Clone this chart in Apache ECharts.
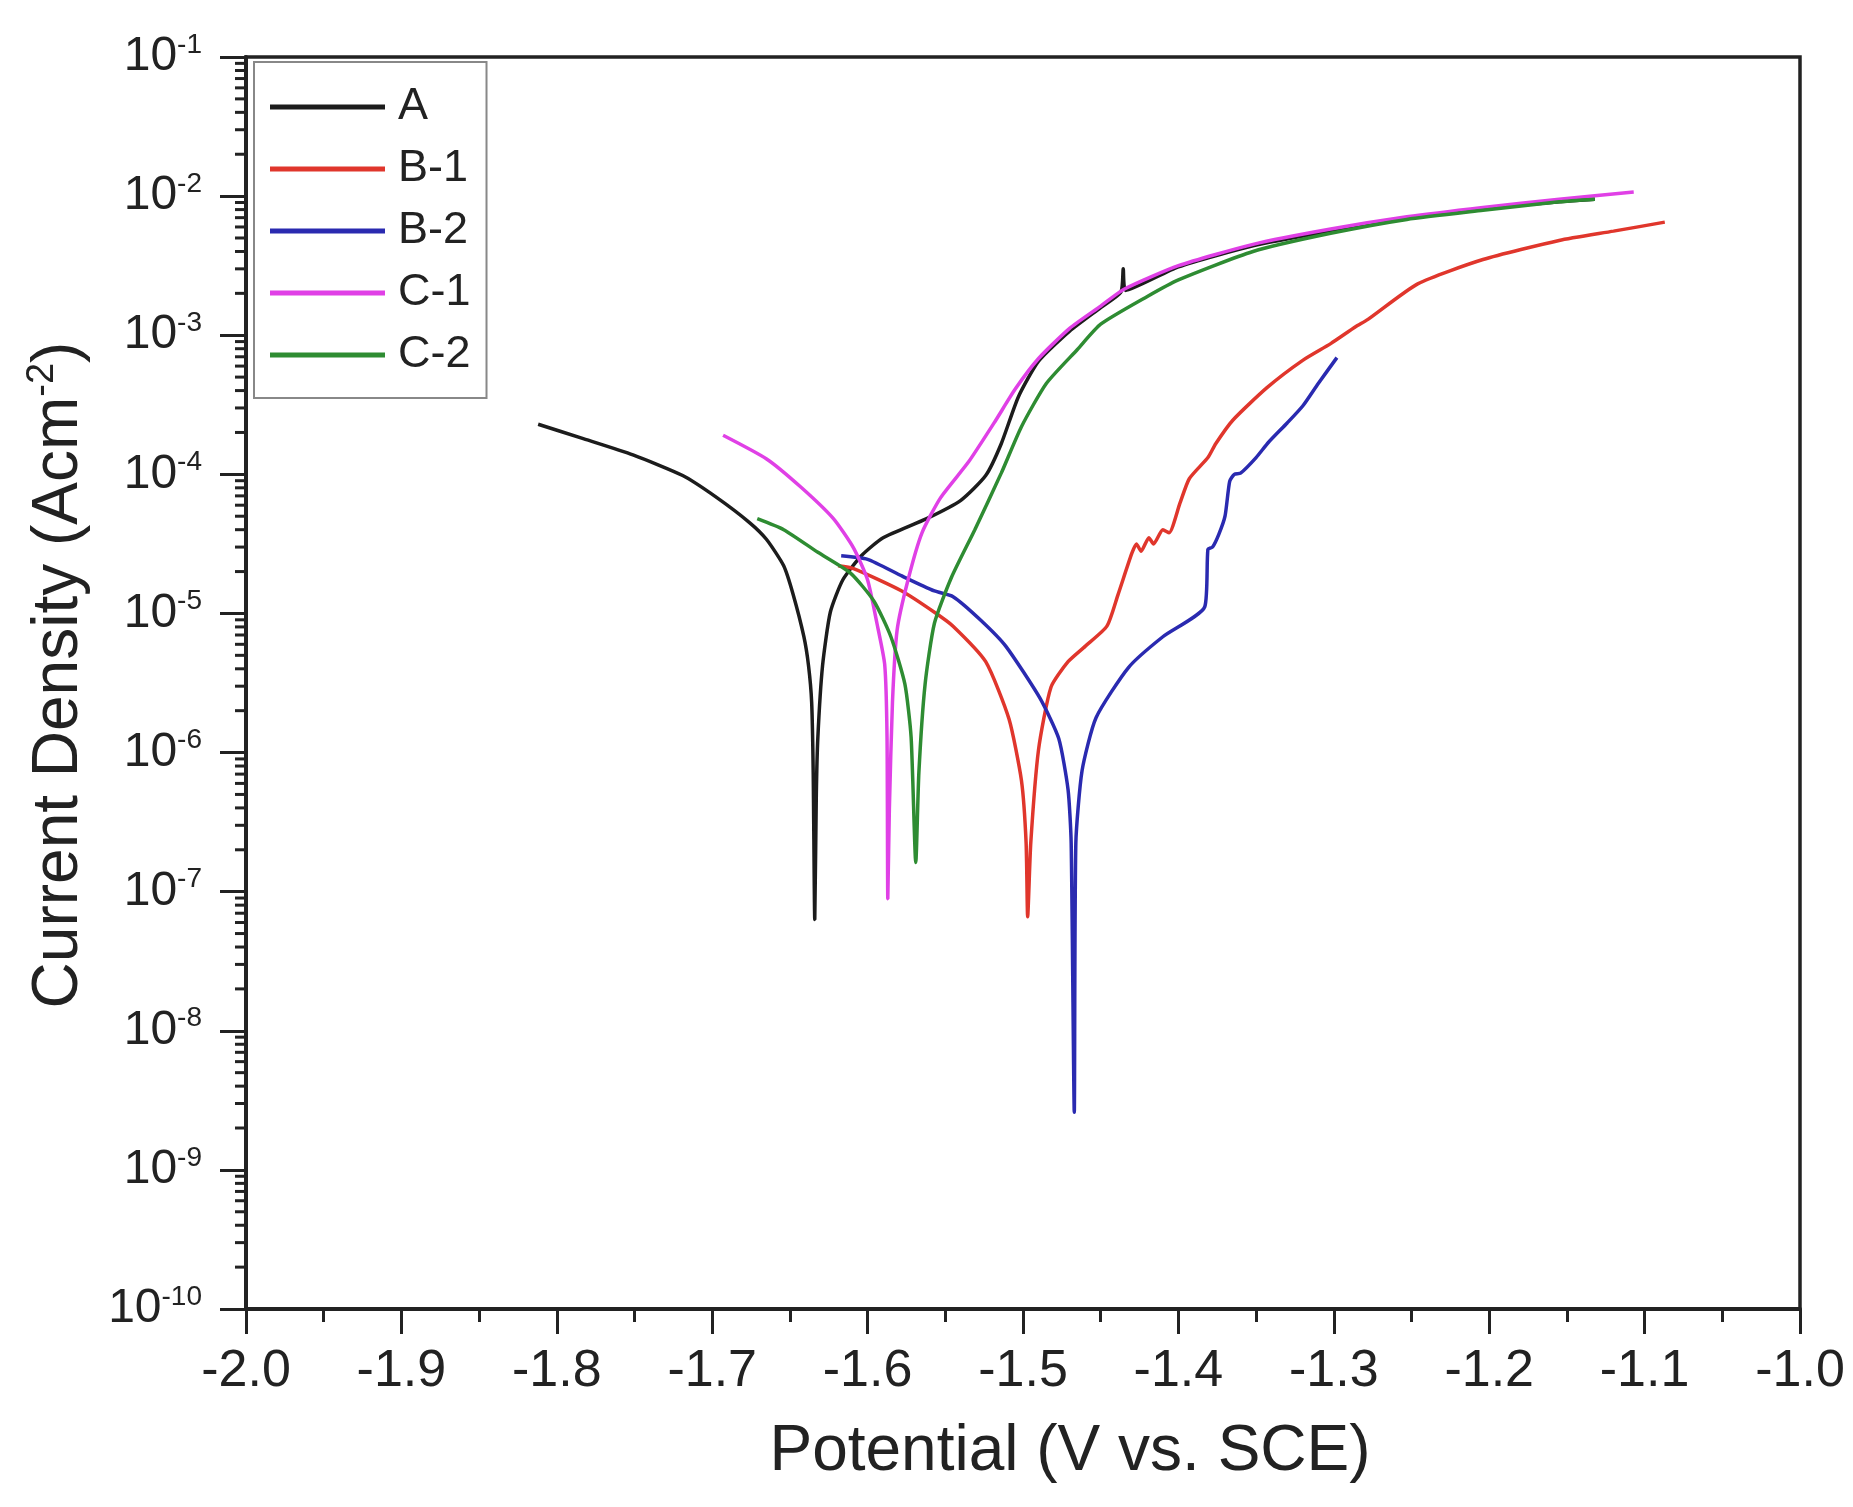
<!DOCTYPE html>
<html>
<head>
<meta charset="utf-8">
<title>Polarization curves</title>
<script src="https://cdn.jsdelivr.net/npm/echarts@6/dist/echarts.min.js"></script>
<style>
    html, body {margin: 0; padding: 0; background: #fff;}
    #main {width: 1853px; height: 1507px;}
</style>
</head>
<body>
<div id="main"></div>
<script>
// potential (V vs. SCE), current density (A/cm2)
var curveA = [
    [-1.812, 2.29e-4], [-1.784, 1.82e-4], [-1.751, 1.38e-4], [-1.719, 9.8e-5], [-1.697, 6.8e-5],
    [-1.676, 4.5e-5], [-1.665, 3.4e-5], [-1.654, 2.2e-5], [-1.648, 1.38e-5], [-1.641, 6.8e-6],
    [-1.638, 4.2e-6], [-1.636, 2.3e-6], [-1.635, 7.2e-7], [-1.634, 6.3e-8], [-1.633, 5.0e-7],
    [-1.632, 1.29e-6], [-1.629, 4.2e-6], [-1.624, 1.02e-5], [-1.616, 1.74e-5], [-1.604, 2.6e-5],
    [-1.590, 3.5e-5], [-1.562, 4.8e-5], [-1.540, 6.5e-5], [-1.524, 9.8e-5], [-1.514, 1.66e-4],
    [-1.503, 3.6e-4], [-1.490, 6.5e-4], [-1.470, 1.07e-3], [-1.450, 1.58e-3], [-1.437, 2.04e-3],
    [-1.4355, 3.0e-3], [-1.434, 2.1e-3], [-1.400, 3.1e-3], [-1.352, 4.4e-3], [-1.302, 5.6e-3],
    [-1.253, 6.9e-3], [-1.204, 8.1e-3], [-1.155, 9.1e-3], [-1.132, 9.5e-3]
];
var curveB1 = [
    [-1.619, 2.2e-5], [-1.609, 2.1e-5], [-1.578, 1.45e-5], [-1.557, 1.02e-5], [-1.545, 8.1e-6],
    [-1.524, 4.5e-6], [-1.509, 1.74e-6], [-1.501, 6.3e-7], [-1.498, 2.24e-7], [-1.497, 6.6e-8],
    [-1.495, 2.24e-7], [-1.490, 1.05e-6], [-1.482, 2.95e-6], [-1.471, 4.5e-6], [-1.460, 5.8e-6],
    [-1.446, 8.1e-6], [-1.439, 1.35e-5], [-1.430, 2.7e-5], [-1.427, 3.16e-5], [-1.424, 2.8e-5],
    [-1.419, 3.5e-5], [-1.416, 3.16e-5], [-1.410, 4.0e-5], [-1.406, 3.8e-5], [-1.399, 6.2e-5],
    [-1.393, 9.3e-5], [-1.381, 1.32e-4], [-1.376, 1.66e-4], [-1.365, 2.45e-4], [-1.343, 4.2e-4],
    [-1.320, 6.6e-4], [-1.302, 8.7e-4], [-1.286, 1.15e-3], [-1.278, 1.3e-3], [-1.246, 2.34e-3],
    [-1.204, 3.5e-3], [-1.155, 4.8e-3], [-1.120, 5.6e-3], [-1.087, 6.5e-3]
];
var curveB2 = [
    [-1.617, 2.6e-5], [-1.600, 2.45e-5], [-1.578, 1.86e-5], [-1.557, 1.45e-5], [-1.545, 1.32e-5],
    [-1.527, 8.9e-6], [-1.511, 5.8e-6], [-1.489, 2.45e-6], [-1.477, 1.26e-6], [-1.471, 5.4e-7],
    [-1.469, 2.24e-7], [-1.467, 2.6e-9], [-1.466, 2.24e-7], [-1.462, 7.4e-7], [-1.453, 1.78e-6],
    [-1.432, 4.1e-6], [-1.410, 6.8e-6], [-1.383, 1.12e-5], [-1.381, 2.9e-5], [-1.378, 3.0e-5],
    [-1.374, 3.7e-5], [-1.370, 5.0e-5], [-1.367, 8.9e-5], [-1.364, 1.0e-4], [-1.360, 1.02e-4],
    [-1.350, 1.32e-4], [-1.342, 1.7e-4], [-1.330, 2.34e-4], [-1.320, 3.1e-4], [-1.310, 4.5e-4],
    [-1.298, 6.9e-4]
];
var curveC1 = [
    [-1.693, 1.91e-4], [-1.665, 1.29e-4], [-1.643, 8.1e-5], [-1.622, 4.8e-5], [-1.609, 2.95e-5],
    [-1.600, 1.74e-5], [-1.594, 8.5e-6], [-1.589, 4.3e-6], [-1.5875, 1.29e-6], [-1.587, 8.9e-8],
    [-1.586, 3.9e-7], [-1.584, 2.3e-6], [-1.581, 7.6e-6], [-1.574, 1.74e-5], [-1.565, 3.8e-5],
    [-1.553, 6.8e-5], [-1.535, 1.23e-4], [-1.518, 2.4e-4], [-1.505, 4.1e-4], [-1.490, 6.8e-4],
    [-1.470, 1.12e-3], [-1.450, 1.62e-3], [-1.435, 2.14e-3], [-1.400, 3.16e-3], [-1.352, 4.5e-3],
    [-1.302, 5.8e-3], [-1.253, 7.1e-3], [-1.204, 8.3e-3], [-1.155, 9.5e-3], [-1.107, 1.07e-2]
];
var curveC2 = [
    [-1.671, 4.8e-5], [-1.654, 4.0e-5], [-1.632, 2.75e-5], [-1.611, 1.95e-5], [-1.596, 1.23e-5],
    [-1.585, 6.8e-6], [-1.576, 3.1e-6], [-1.572, 1.29e-6], [-1.569, 1.62e-7], [-1.567, 7.2e-7],
    [-1.563, 3.1e-6], [-1.557, 8.5e-6], [-1.546, 1.82e-5], [-1.531, 4.0e-5], [-1.514, 1.02e-4],
    [-1.501, 2.2e-4], [-1.485, 4.5e-4], [-1.465, 7.9e-4], [-1.450, 1.2e-3], [-1.420, 1.9e-3],
    [-1.400, 2.5e-3], [-1.352, 4.0e-3], [-1.302, 5.4e-3], [-1.253, 6.8e-3], [-1.204, 7.9e-3],
    [-1.155, 9.1e-3], [-1.132, 9.5e-3]
];

var seriesNames = ['A', 'B-1', 'B-2', 'C-1', 'C-2'];
var seriesColors = ['#1c1c1c', '#e0362c', '#2a2ab0', '#e040e6', '#2e8c32'];
var seriesData = [curveA, curveB1, curveB2, curveC1, curveC2];

var xMin = -2.0, xMax = -1.0, xStep = 0.1;
var yMin = 1e-10, yMax = 1e-1;

// log minor ticks 2..9 in every decade
var yMinorTicks = [];
for (var e = -10; e < -1; e++) {
    for (var m = 2; m <= 9; m++) {
        yMinorTicks.push([xMin, m * Math.pow(10, e)]);
    }
}

var fontFamily = '"Liberation Sans", Arial, sans-serif';

(function () {
    var myChart = echarts.init(document.getElementById('main'));

    var series = seriesNames.map(function (name, i) {
        return {
            name: name,
            type: 'line',
            data: seriesData[i],
            symbol: 'none',
            showSymbol: false,
            smooth: 0.2,
            lineStyle: {color: seriesColors[i], width: 3.5},
            itemStyle: {color: seriesColors[i]},
            z: 3
        };
    });

    // minor ticks of the log axis
    series.push({
        type: 'custom',
        silent: true,
        clip: false,
        data: yMinorTicks,
        renderItem: function (params, api) {
            var p = api.coord([api.value(0), api.value(1)]);
            return {
                type: 'line',
                shape: {x1: p[0] - 11, y1: p[1], x2: p[0], y2: p[1]},
                style: {stroke: '#222', lineWidth: 3}
            };
        },
        z: 4
    });

    var option = {
        backgroundColor: '#fff',
        animation: false,
        grid: {
            left: 246, right: 53, top: 57, bottom: 198,
            show: true,
            borderColor: '#222',
            borderWidth: 3.5
        },
        legend: {
            data: seriesNames,
            orient: 'vertical',
            left: 254,
            top: 62,
            padding: [22, 16, 20, 16],
            itemGap: 16,
            itemWidth: 115,
            itemHeight: 5,
            icon: 'rect',
            borderColor: '#888',
            borderWidth: 2,
            backgroundColor: '#fff',
            textStyle: {
                fontFamily: fontFamily,
                fontSize: 45,
                color: '#222',
                lineHeight: 46,
                padding: [0, 0, 0, 8]
            }
        },
        xAxis: {
            type: 'value',
            min: xMin,
            max: xMax,
            interval: xStep,
            name: 'Potential (V vs. SCE)',
            nameLocation: 'middle',
            nameGap: 108,
            nameTextStyle: {
                fontFamily: fontFamily,
                fontSize: 64,
                color: '#222',
                lineHeight: 70,
                padding: [0, 0, 0, 94]
            },
            axisLine: {lineStyle: {color: '#222', width: 4}},
            axisTick: {length: 25, lineStyle: {color: '#222', width: 3}},
            minorTick: {show: true, splitNumber: 2, length: 13, lineStyle: {color: '#222', width: 3}},
            splitLine: {show: false},
            axisLabel: {
                margin: 37,
                fontFamily: fontFamily,
                fontSize: 52,
                color: '#222',
                formatter: function (v) { return v.toFixed(1); }
            }
        },
        yAxis: {
            type: 'log',
            logBase: 10,
            min: yMin,
            max: yMax,
            splitNumber: 9,
            name: 'Current Density (Acm{s|-2})',
            nameLocation: 'middle',
            nameGap: 152,
            nameTextStyle: {
                fontFamily: fontFamily,
                fontSize: 64,
                color: '#222',
                lineHeight: 70,
                padding: [0, 0, 0, 16],
                rich: {
                    s: {fontFamily: fontFamily, fontSize: 38, color: '#222', lineHeight: 34, verticalAlign: 'top'}
                }
            },
            axisLine: {lineStyle: {color: '#222', width: 4}},
            axisTick: {length: 26, lineStyle: {color: '#222', width: 3}},
            splitLine: {show: false},
            axisLabel: {
                margin: 44,
                formatter: function (v) {
                    var e = Math.round(Math.log(v) / Math.LN10);
                    return '{b|10}{s|' + e + '}';
                },
                rich: {
                    b: {fontFamily: fontFamily, fontSize: 48, color: '#222', lineHeight: 52},
                    s: {fontFamily: fontFamily, fontSize: 28, color: '#222', lineHeight: 26, verticalAlign: 'top'}
                }
            }
        },
        series: series
    };

    myChart.setOption(option);
})();
</script>
</body>
</html>
